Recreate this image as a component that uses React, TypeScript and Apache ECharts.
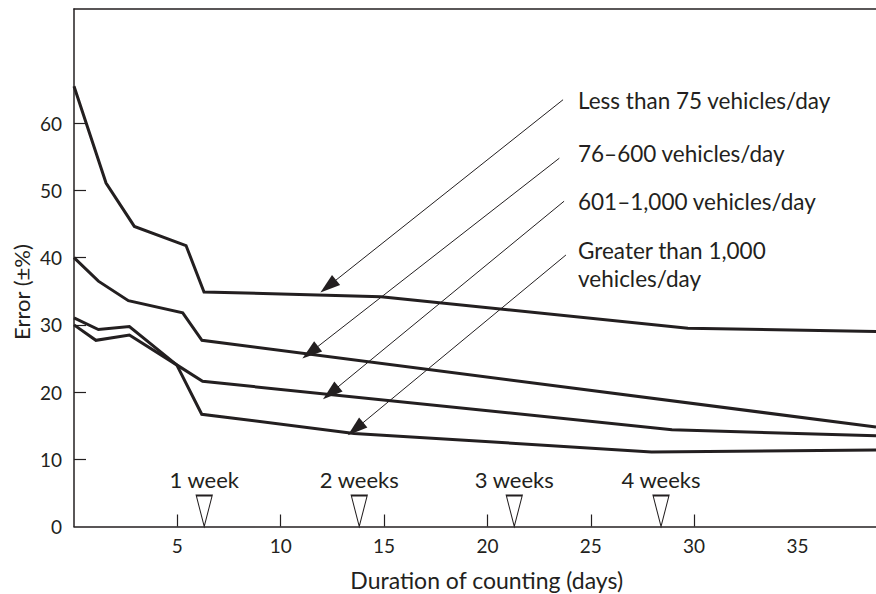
import React, { useEffect, useRef } from "react";
import * as echarts from "echarts";

// ---- data ----
const seriesNames = [
  "Less than 75 vehicles/day",
  "76–600 vehicles/day",
  "601–1,000 vehicles/day",
  "Greater than 1,000 vehicles/day",
];
const days1 = [0, 1.55, 2.92, 5.42, 6.29, 14.85, 29.7, 38.8];
const err1 = [65.5, 51.1, 44.65, 41.8, 34.9, 34.2, 29.5, 29.0];
const days2 = [0, 1.18, 2.63, 5.26, 6.19, 38.8];
const err2 = [40.0, 36.5, 33.6, 31.8, 27.7, 14.8];
const days3 = [0, 1.06, 2.68, 4.97, 6.22, 28.93, 38.8];
const err3 = [30.0, 27.7, 28.5, 24.05, 21.6, 14.4, 13.5];
const days4 = [0, 1.18, 2.68, 4.97, 6.18, 13.55, 27.94, 38.8];
const err4 = [31.05, 29.3, 29.75, 24.05, 16.7, 13.85, 11.1, 11.4];

const weekNames = ["1 week", "2 weeks", "3 weeks", "4 weeks"];
const weekDays = [6.3, 13.8, 21.3, 28.4];

// arrow annotations: start (near label) and arrow-head centre (near the curve), in data units
const arrowFrom = [
  [23.66, 63.5],
  [23.48, 54.8],
  [23.71, 48.4],
  [23.8, 40.4],
];
const arrowTo = [
  [12.3, 35.75],
  [11.43, 25.9],
  [12.42, 19.88],
  [13.62, 14.52],
];
const labelLines = [
  ["Less than 75 vehicles/day"],
  ["76–600 vehicles/day"],
  ["601–1,000 vehicles/day"],
  ["Greater than 1,000", "vehicles/day"],
];

const xTickValues = [5, 10, 15, 20, 25, 30];
const xLabelValues = [5, 10, 15, 20, 25, 30, 35];
const yTickValues = [10, 20, 30, 40, 50, 60];
const yLabelValues = [0, 10, 20, 30, 40, 50, 60];

const INK = "#231f20";
const FONT = "Lato";

function zip(xs: number[], ys: number[]) {
  return xs.map((x, i) => [x, ys[i]]);
}

export default function App() {
  const ref = useRef<HTMLDivElement>(null);
  useEffect(() => {
    if (!ref.current) return;
    const chart = echarts.init(ref.current, null, { renderer: "svg" });
    const allDays = [days1, days2, days3, days4];
    const allErr = [err1, err2, err3, err4];

    const lineSeries = allDays.map((d, i) => ({
      type: "line",
      name: seriesNames[i],
      data: zip(d, allErr[i]),
      showSymbol: false,
      symbol: "none",
      lineStyle: { color: INK, width: 3, join: "miter" },
      itemStyle: { color: INK },
      markLine: {
        silent: true,
        symbol: ["none", "triangle"],
        symbolSize: [13, 20],
        lineStyle: { color: INK, width: 1, type: "solid" },
        itemStyle: { color: INK },
        label: { show: false },
        data: [[{ coord: arrowFrom[i] }, { coord: arrowTo[i] }]],
      },
    }));

    const labelGraphics: any[] = [];
    const labelY = [100, 153.3, 201.7, 250];
    labelLines.forEach((lines, i) => {
      lines.forEach((t, j) => {
        labelGraphics.push({
          type: "text",
          x: 578,
          y: labelY[i] + j * 28.5,
          silent: true,
          style: {
            text: t,
            font: `22.5px ${FONT}`,
            fill: INK,
            align: "left",
            verticalAlign: "middle",
          },
        });
      });
    });

    chart.setOption({
      animation: false,
      grid: { left: 74, right: 0, top: 9, bottom: 67.5, containLabel: false },
      xAxis: [
        {
          type: "value",
          min: 0,
          max: 38.8,
          axisLine: { show: true, lineStyle: { color: INK, width: 1.5 } },
          axisTick: {
            show: true,
            inside: true,
            length: 12,
            customValues: xTickValues,
            lineStyle: { color: INK, width: 1.2 },
          },
          axisLabel: {
            show: true,
            customValues: xLabelValues,
            margin: 9,
            color: INK,
            fontFamily: FONT,
            fontSize: 19,
          },
          splitLine: { show: false },
        },
        {
          type: "value",
          position: "top",
          min: 0,
          max: 38.8,
          axisLine: { show: true, lineStyle: { color: INK, width: 1.5 } },
          axisTick: { show: false },
          axisLabel: { show: false },
          splitLine: { show: false },
        },
      ],
      yAxis: {
        type: "value",
        min: 0,
        max: 77,
        axisLine: { show: true, lineStyle: { color: INK, width: 1.5 } },
        axisTick: {
          show: true,
          inside: true,
          length: 12,
          customValues: yTickValues,
          lineStyle: { color: INK, width: 1.2 },
        },
        axisLabel: {
          show: true,
          customValues: yLabelValues,
          margin: 12,
          color: INK,
          fontFamily: FONT,
          fontSize: 19,
        },
        splitLine: { show: false },
      },
      series: [
        ...lineSeries,
        {
          type: "scatter",
          name: "weeks",
          data: weekDays.map((d, i) => ({ value: [d, 0], name: weekNames[i] })),
          symbol: "path://M0,0 L10,0 L5,20 Z",
          symbolKeepAspect: false,
          symbolSize: [16, 31],
          symbolOffset: [0, -15.5],
          itemStyle: { color: "#ffffff", borderColor: INK, borderWidth: 1.3, opacity: 1 },
          label: {
            show: true,
            position: "top",
            distance: 4,
            formatter: (p: any) => p.name,
            color: INK,
            opacity: 1,
            fontFamily: FONT,
            fontSize: 22,
          },
          silent: true,
          clip: false,
          z: 3,
        },
      ],
      graphic: [
        ...labelGraphics,
        {
          type: "text",
          x: 486.7,
          y: 580,
          silent: true,
          style: {
            text: "Duration of counting (days)",
            font: `23px ${FONT}`,
            fill: INK,
            align: "center",
            verticalAlign: "middle",
          },
        },
        {
          type: "text",
          x: 21,
          y: 292,
          rotation: Math.PI / 2,
          silent: true,
          style: {
            text: "Error (±%)",
            font: `22px ${FONT}`,
            fill: INK,
            align: "center",
            verticalAlign: "middle",
          },
        },
      ],
    });
    return () => chart.dispose();
  }, []);
  return (
    <div
      ref={ref}
      style={{ position: "fixed", left: 0, top: 0, width: 876, height: 594, background: "#fff" }}
    />
  );
}
